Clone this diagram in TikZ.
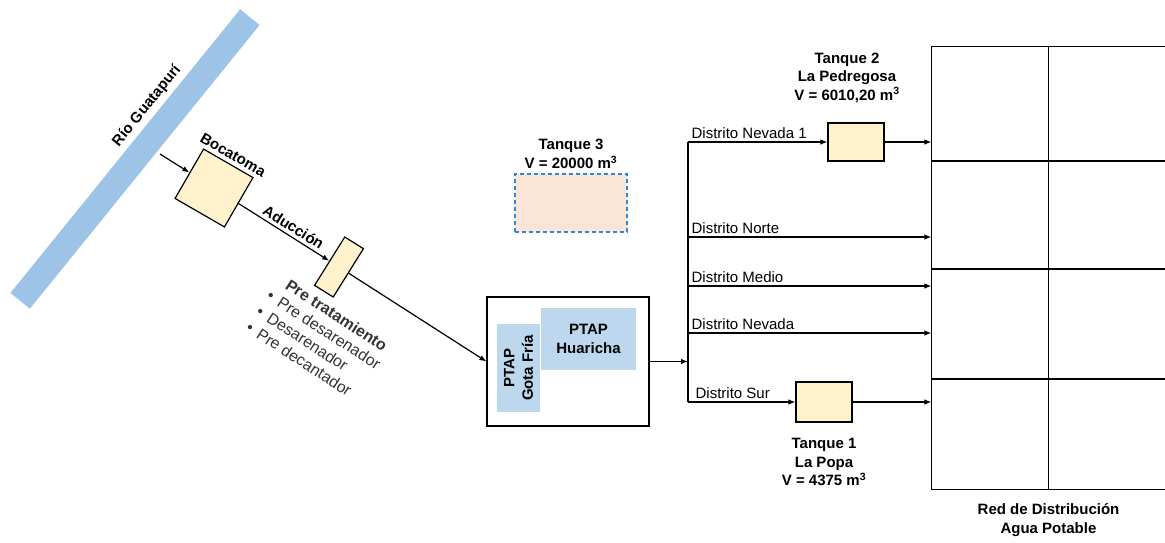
\documentclass[tikz,border=0pt]{standalone}
\usepackage{fontspec}
\setmainfont{Liberation Sans}
\usetikzlibrary{arrows.meta,positioning}
\definecolor{rioazul}{HTML}{9DC3E6}
\definecolor{ptapazul}{HTML}{BDD7EE}
\definecolor{tanqueam}{HTML}{FFF2CC}
\definecolor{tanquero}{HTML}{FBE5D6}
\definecolor{bordeaz}{HTML}{2E86D6}
\newcommand\letra{\fontsize{15}{18.5}\selectfont}
\begin{document}
\begin{tikzpicture}[x=1pt, y=-1pt, font=\letra, line width=1.2pt,
		rio/.style={fill=rioazul, minimum width=365, minimum height=25, inner sep=0},
		tanque/.style={draw, fill=tanqueam, inner sep=0},
		planta/.style={fill=ptapazul, inner sep=0, align=center, font=\letra\bfseries},
		titulo/.style={align=center, font=\letra\bfseries},
		distrito/.style={anchor=south west, inner sep=3pt},
		flecha/.style={-{Latex[length=7pt,width=5.5pt]}}]
		\useasboundingbox (0,0) rectangle (1165,542);

		% rio y bocatoma
		\node [rio, rotate=51] (rio) at (135,159) {};
		\node [titulo, rotate=51] (riolbl) at (147,106) {Río Guatapurí};
		\node [tanque, minimum size=57, rotate=-30] (boca) at (214,188) {};
		\node [titulo, rotate=-30, anchor=south] (bocalbl) at (boca.north) {Bocatoma};
		\coordinate (toma) at (160,154);
		\draw [flecha] (toma) -- (boca);

		% pre tratamiento
		\node [tanque, minimum width=22, minimum height=57, rotate=-32] (pre) at (339,267) {};
		\draw [flecha] (boca) -- node [titulo, sloped, above, pos=0.55] {Aducción} (pre);
		\node [rotate=-33, anchor=north west, align=left, inner sep=0, text=black!80,
			font=\fontsize{16}{19}\selectfont] (pretxt) at (282,272)
			{\hspace*{10pt}\textbf{Pre tratamiento}\\
			 \textbullet\hspace{7pt}Pre desarenador\\
			 \textbullet\hspace{7pt}Desarenador\\
			 \textbullet\hspace{7pt}Pre decantador};

		% plantas
		\node [draw, minimum width=162, minimum height=129, inner sep=0] (ptap) at (568,361.5) {};
		\draw [flecha] (pre) -- (ptap.west);
		\node [planta, rotate=90, minimum width=88, minimum height=43] (gota) at (518.5,368) {PTAP\\Gota Fría};
		\node [planta, minimum width=95, minimum height=62] (huar) at (588.5,339) {PTAP\\Huaricha};

		% tanque 3
		\node [fill=tanquero, draw=bordeaz, dash pattern=on 4pt off 3pt, minimum width=112, minimum height=58] (t3) at (571,203) {};
		\node [titulo, above=1pt of t3] (t3lbl) {Tanque 3\\V = 20000 m\textsuperscript{3}};

		% red de distribucion
		\node [minimum width=233, minimum height=442, inner sep=0] (red) at (1048.5,268) {};
		\draw (red.north east) -- (red.north west) -- (red.south west) -- (red.south east);
		\draw (red.north) -- (red.south);
		\foreach \yy in {161,269,379}
			\draw (red.west |- 0,\yy) -- (red.east |- 0,\yy);
		\node [titulo, below=10pt of red] (redlbl) {Red de Distribución\\Agua Potable};

		% distritos
		\coordinate (bus) at (688,363);
		\coordinate (bsup) at (688,142);
		\coordinate (binf) at (688,402);
		\draw [flecha] (ptap.east) -- (ptap.east -| bus);
		\draw (bsup) -- (binf);

		\node [tanque, minimum width=56, minimum height=38] (t2) at (856,142) {};
		\node [titulo, above=16pt of t2, xshift=-9pt] (t2lbl) {Tanque 2\\La Pedregosa\\V = 6010,20 m\textsuperscript{3}};
		\draw [flecha] (bsup) -- node [distrito, pos=0] {Distrito Nevada 1} (t2);
		\draw [flecha] (t2) -- (t2 -| red.west);

		\foreach \yy/\nom in {237/Norte, 286/Medio, 333/Nevada} {
			\coordinate (d\nom) at (688,\yy);
			\draw [flecha] (d\nom) -- node [distrito, pos=0] {Distrito \nom} (d\nom -| red.west);
		}

		\node [tanque, minimum width=56, minimum height=40] (t1) at (824,402) {};
		\node [titulo, below=12pt of t1] (t1lbl) {Tanque 1\\La Popa\\V = 4375 m\textsuperscript{3}};
		\draw [flecha] (binf) -- node [distrito, pos=0, xshift=4pt] {Distrito Sur} (t1);
		\draw [flecha] (t1) -- (t1 -| red.west);
\end{tikzpicture}
\end{document}
